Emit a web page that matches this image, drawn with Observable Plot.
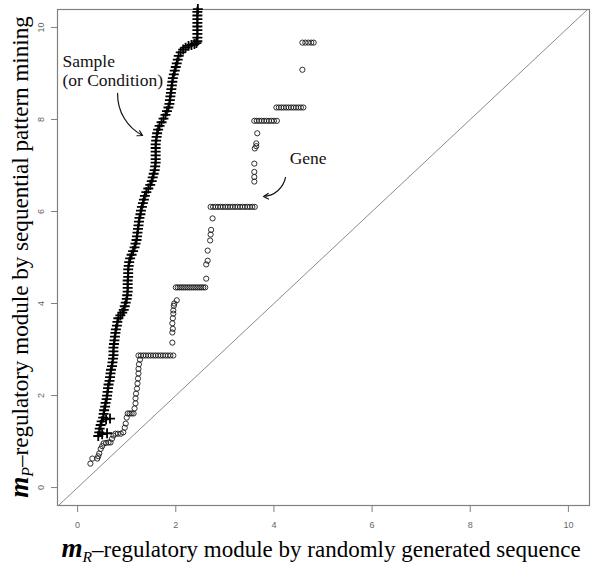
<!DOCTYPE html>
<html><head><meta charset="utf-8">
<script src="https://cdn.jsdelivr.net/npm/d3@7"></script>
<script src="https://cdn.jsdelivr.net/npm/@observablehq/plot@0.6"></script>
<style>body{margin:0;background:#fff}</style>
</head><body><div id="chart"></div>
<script>
// Sample (or Condition) series: "+" markers
const sampleX = [0.42,0.50,0.60,0.44,0.45,0.47,0.49,0.58,0.66,0.52,0.53,0.54,0.56,0.57,0.59,0.60,0.61,0.62,0.63,0.65,
  0.66,0.67,0.68,0.70,0.71,0.72,0.73,0.73,0.73,0.74,0.75,0.76,0.77,0.78,0.80,0.81,0.83,0.87,0.91,0.94,
  0.96,0.98,1.00,1.01,1.02,1.02,1.02,1.02,1.03,1.03,1.03,1.04,1.05,1.07,1.10,1.13,1.16,1.18,1.20,1.21,
  1.22,1.23,1.24,1.25,1.26,1.28,1.29,1.31,1.33,1.35,1.37,1.40,1.44,1.48,1.51,1.53,1.55,1.57,1.58,1.59,
  1.59,1.59,1.59,1.59,1.59,1.60,1.61,1.62,1.64,1.67,1.71,1.75,1.79,1.82,1.85,1.87,1.88,1.89,1.90,1.91,
  1.92,1.93,1.94,1.96,1.98,2.00,2.02,2.04,2.06,2.10,2.15,2.20,2.26,2.32,2.38,2.42,2.44,2.44,2.44,2.44,
  2.44,2.44,2.44,2.44,2.44,2.45];
const sampleY = [1.12,1.16,1.18,1.20,1.28,1.36,1.44,1.48,1.50,1.52,1.60,1.68,1.76,1.84,1.92,2.00,2.08,2.16,2.24,2.32,
  2.40,2.48,2.56,2.64,2.72,2.80,2.88,2.96,3.04,3.12,3.20,3.28,3.36,3.44,3.52,3.60,3.68,3.74,3.80,3.86,
  3.94,4.02,4.10,4.18,4.26,4.34,4.42,4.50,4.58,4.66,4.74,4.82,4.90,4.98,5.06,5.14,5.22,5.30,5.38,5.46,
  5.54,5.62,5.70,5.78,5.86,5.94,6.02,6.10,6.18,6.26,6.34,6.42,6.50,6.58,6.66,6.74,6.82,6.90,6.98,7.06,
  7.14,7.22,7.30,7.38,7.46,7.54,7.62,7.70,7.78,7.86,7.94,8.02,8.10,8.18,8.26,8.34,8.42,8.50,8.58,8.66,
  8.74,8.82,8.90,8.98,9.06,9.14,9.22,9.30,9.38,9.46,9.52,9.56,9.60,9.62,9.64,9.66,9.70,9.78,9.86,9.94,
  10.02,10.10,10.18,10.26,10.34,10.40];

// Gene series: open circle markers
const geneX = [0.26,0.30,0.40,0.42,0.44,0.47,0.50,0.53,0.58,0.63,0.67,0.70,0.73,0.77,0.82,0.88,0.93,0.96,0.98,1.00,
  1.02,1.06,1.10,1.14,1.16,1.18,1.18,1.19,1.21,1.22,1.23,1.24,1.24,1.25,1.27,
  1.24,1.29,1.34,1.39,1.44,1.49,1.54,1.59,1.64,1.69,1.74,1.79,1.84,1.89,1.95,
  1.93,1.93,1.94,1.93,1.94,1.95,1.95,1.96,1.97,2.02,
  2.00,2.04,2.08,2.12,2.16,2.20,2.24,2.28,2.32,2.36,2.40,2.44,2.48,2.52,2.56,2.60,
  2.62,2.62,2.65,2.65,2.70,2.71,2.72,2.75,
  2.71,2.76,2.81,2.86,2.91,2.96,3.01,3.06,3.11,3.16,3.21,3.26,3.31,3.36,3.41,3.46,3.51,3.56,3.61,
  3.60,3.60,3.60,3.60,3.61,3.64,3.66,3.64,
  3.60,3.65,3.70,3.75,3.80,3.85,3.90,3.95,4.00,4.06,
  4.05,4.10,4.15,4.20,4.25,4.30,4.35,4.40,4.45,4.50,4.55,4.60,
  4.58,4.58,4.64,4.70,4.76,4.81];
const geneY = [0.52,0.63,0.63,0.68,0.74,0.84,0.90,0.96,0.97,0.98,0.98,1.06,1.13,1.17,1.17,1.17,1.20,1.30,1.39,1.52,
  1.61,1.61,1.61,1.61,1.72,1.83,1.94,2.04,2.15,2.26,2.37,2.48,2.58,2.68,2.78,
  2.87,2.87,2.87,2.87,2.87,2.87,2.87,2.87,2.87,2.87,2.87,2.87,2.87,2.87,2.87,
  3.15,3.37,3.45,3.57,3.68,3.78,3.85,3.95,4.00,4.07,
  4.35,4.35,4.35,4.35,4.35,4.35,4.35,4.35,4.35,4.35,4.35,4.35,4.35,4.35,4.35,4.35,
  4.54,4.85,4.93,5.15,5.37,5.50,5.60,5.85,
  6.10,6.10,6.10,6.10,6.10,6.10,6.10,6.10,6.10,6.10,6.10,6.10,6.10,6.10,6.10,6.10,6.10,6.10,6.10,
  6.65,6.75,6.86,7.04,7.37,7.42,7.70,7.48,
  7.97,7.97,7.97,7.97,7.97,7.97,7.97,7.97,7.97,7.97,
  8.26,8.26,8.26,8.26,8.26,8.26,8.26,8.26,8.26,8.26,8.26,8.26,
  9.08,9.67,9.67,9.67,9.67,9.67];

const xTicks = [0, 2, 4, 6, 8, 10];
const yTicks = [0, 2, 4, 6, 8, 10];
const refLine = [-0.5, 10.5];            // y = x reference line

const labelTexts = ["Sample\n(or Condition)", "Gene"];
const labelX = [-0.31, 4.32];
const labelY = [8.72, 7.04];

const arrowX1 = [0.815, 4.236], arrowY1 = [8.565, 6.739];
const arrowX2 = [1.324, 3.788], arrowY2 = [7.652, 6.326];

const sample = sampleX.map((x, i) => ({x, y: sampleY[i]}));
const gene = geneX.map((x, i) => ({x, y: geneY[i]}));
const diag = refLine.map(v => ({x: v, y: v}));
const labels = labelTexts.map((t, i) => ({t, x: labelX[i], y: labelY[i]}));
const arrows = arrowX1.map((x1, i) => ({x1, y1: arrowY1[i], x2: arrowX2[i], y2: arrowY2[i]}));

const serif = "'Liberation Serif', 'DejaVu Serif', 'Times New Roman', serif";
const arrowOpts = {x1: "x1", y1: "y1", x2: "x2", y2: "y2", stroke: "#111", strokeWidth: 1.2, headLength: 7};

const plot = Plot.plot({
  width: 600, height: 568,
  marginLeft: 57, marginRight: 11, marginTop: 9, marginBottom: 63,
  x: {domain: [-0.41, 10.43]},
  y: {domain: [-0.39, 10.39]},
  style: {background: "#fff", fontFamily: "'Liberation Sans', Arial, sans-serif"},
  marks: [
    Plot.frame({stroke: "#808080", strokeWidth: 1.2}),
    Plot.line(diag, {x: "x", y: "y", stroke: "#8a8a8a", strokeWidth: 1, clip: true}),
    Plot.axisX({ticks: xTicks, tickSize: 7, tickPadding: 9, fontSize: 9, label: null, stroke: "#808080", fill: "#666"}),
    Plot.axisY({ticks: yTicks, tickSize: 6, tickPadding: 8, fontSize: 9, label: null, stroke: "#808080", fill: "#666", tickRotate: -90, textAnchor: "middle"}),
    Plot.dot(gene, {x: "x", y: "y", r: 2.6, stroke: "#1a1a1a", strokeWidth: 0.9, fill: "none"}),
    Plot.dot(sample, {x: "x", y: "y", symbol: "plus", r: 3.3, stroke: "#000", strokeWidth: 1.8}),
    Plot.text(labels, {x: "x", y: "y", text: "t", textAnchor: "start", lineAnchor: "bottom", lineHeight: 1.09,
      fontSize: 17.5, fontFamily: serif, fill: "#111"}),
    Plot.arrow(arrows.slice(0, 1), {...arrowOpts, bend: -32}),
    Plot.arrow(arrows.slice(1, 2), {...arrowOpts, bend: 38})
  ]
});
document.getElementById("chart").appendChild(plot);

// Axis titles with math-style subscripts
const svg = d3.select(plot);
function title(g, size, sub, rest) {
  g.attr("style", `font-family:${serif};font-size:${size}px;fill:#000`).attr("text-anchor", "middle");
  g.append("tspan").attr("font-weight", "bold").attr("font-style", "italic").attr("style", `font-size:${size * 1.18}px`).text("m");
  g.append("tspan").attr("font-style", "italic").attr("style", `font-size:${size * 0.68}px`).attr("dy", 5).text(sub);
  g.append("tspan").attr("dy", -5).text(rest);
}
title(svg.append("text").attr("x", 321).attr("y", 557), 23, "R", "–regulatory module by randomly generated sequence");
title(svg.append("text").attr("transform", "translate(28,257) rotate(-90)"), 23.1, "P", "–regulatory module by sequential pattern mining");
</script>
</body></html>
